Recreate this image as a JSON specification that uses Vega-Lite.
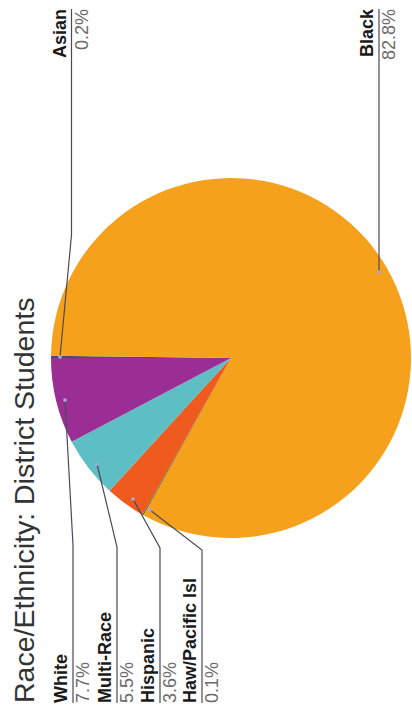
{
  "$schema": "https://vega.github.io/schema/vega-lite/v6.json",
  "autosize": "none",
  "padding": {"left": 50, "top": 13, "right": 0, "bottom": 0},
  "width": 362,
  "height": 690,
  "background": "white",
  "title": {
    "text": "Race/Ethnicity: District Students",
    "orient": "left",
    "anchor": "start",
    "frame": "group",
    "offset": 11,
    "font": "Liberation Sans",
    "fontSize": 28.5,
    "fontWeight": "normal",
    "color": "#333333"
  },
  "config": {"view": {"stroke": null}},
  "datasets": {
    "slices": [
      {"group": "Asian", "share": 0.002, "ord": 1},
      {"group": "Black", "share": 0.828, "ord": 2},
      {"group": "Haw/Pacific Isl", "share": 0.001, "ord": 3},
      {"group": "Hispanic", "share": 0.036, "ord": 4},
      {"group": "Multi-Race", "share": 0.055, "ord": 5},
      {"group": "White", "share": 0.077, "ord": 6}
    ],
    "leaders": [
      {"group": "Asian", "step": 0, "px": 60, "py": 357},
      {"group": "Asian", "step": 1, "px": 71.5, "py": 235},
      {"group": "Asian", "step": 2, "px": 71.5, "py": 9},
      {"group": "Black", "step": 0, "px": 379, "py": 272},
      {"group": "Black", "step": 1, "px": 379, "py": 150},
      {"group": "Black", "step": 2, "px": 379, "py": 9},
      {"group": "White", "step": 0, "px": 65, "py": 400},
      {"group": "White", "step": 1, "px": 73, "py": 545},
      {"group": "White", "step": 2, "px": 73, "py": 703},
      {"group": "Multi-Race", "step": 0, "px": 97, "py": 464},
      {"group": "Multi-Race", "step": 1, "px": 117, "py": 547},
      {"group": "Multi-Race", "step": 2, "px": 117, "py": 703},
      {"group": "Hispanic", "step": 0, "px": 133, "py": 499},
      {"group": "Hispanic", "step": 1, "px": 160, "py": 548},
      {"group": "Hispanic", "step": 2, "px": 160, "py": 703},
      {"group": "Haw/Pacific Isl", "step": 0, "px": 150, "py": 510},
      {"group": "Haw/Pacific Isl", "step": 1, "px": 202, "py": 550},
      {"group": "Haw/Pacific Isl", "step": 2, "px": 202, "py": 703}
    ]
  },
  "layer": [
    {
      "data": {"name": "slices"},
      "mark": {"type": "arc", "outerRadius": 180},
      "encoding": {
        "theta": {"field": "share", "type": "quantitative", "stack": true, "scale": {"range": [4.712389, 10.995574]}},
        "order": {"field": "ord", "type": "quantitative"},
        "color": {
          "field": "group", "type": "nominal", "legend": null,
          "scale": {
            "domain": ["Asian", "Black", "Haw/Pacific Isl", "Hispanic", "Multi-Race", "White"],
            "range": ["#4a4a78", "#f6a11c", "#4f6b2f", "#ef5a1f", "#5dbec4", "#9a2e94"]
          }
        }
      }
    },
    {
      "data": {"name": "leaders"},
      "transform": [
        {"lookup": "group", "from": {"data": {"name": "slices"}, "key": "group", "fields": ["share"]}}
      ],
      "encoding": {
        "x": {"field": "px", "type": "quantitative", "axis": null, "scale": {"domain": [50, 412], "nice": false, "zero": false}},
        "y": {"field": "py", "type": "quantitative", "axis": null, "scale": {"domain": [13, 703], "reverse": true, "nice": false, "zero": false}}
      },
      "layer": [
        {
          "mark": {"type": "line", "color": "#4d4858", "strokeWidth": 1.2},
          "encoding": {"detail": {"field": "group"}, "order": {"field": "step", "type": "quantitative"}}
        },
        {
          "transform": [{"filter": "datum.step === 0"}],
          "mark": {"type": "point", "filled": true, "color": "#a9a3e8", "size": 14, "opacity": 1}
        },
        {
          "transform": [{"filter": "datum.step === 2 && datum.py > 300"}],
          "mark": {"type": "text", "angle": 270, "align": "left", "baseline": "alphabetic", "dy": -6, "font": "Liberation Sans", "fontSize": 18, "fontWeight": "bold", "color": "#1a1a1a"},
          "encoding": {"text": {"field": "group"}}
        },
        {
          "transform": [{"filter": "datum.step === 2 && datum.py > 300"}],
          "mark": {"type": "text", "angle": 270, "align": "left", "baseline": "top", "dy": 2, "font": "Liberation Sans", "fontSize": 18, "color": "#6a6a6a"},
          "encoding": {"text": {"field": "share", "type": "quantitative", "format": ".1%"}}
        },
        {
          "transform": [{"filter": "datum.step === 2 && datum.py < 300"}],
          "mark": {"type": "text", "angle": 270, "align": "right", "baseline": "alphabetic", "dy": -6, "font": "Liberation Sans", "fontSize": 18, "fontWeight": "bold", "color": "#1a1a1a"},
          "encoding": {"text": {"field": "group"}}
        },
        {
          "transform": [{"filter": "datum.step === 2 && datum.py < 300"}],
          "mark": {"type": "text", "angle": 270, "align": "right", "baseline": "top", "dy": 2, "font": "Liberation Sans", "fontSize": 18, "color": "#6a6a6a"},
          "encoding": {"text": {"field": "share", "type": "quantitative", "format": ".1%"}}
        }
      ]
    }
  ]
}
